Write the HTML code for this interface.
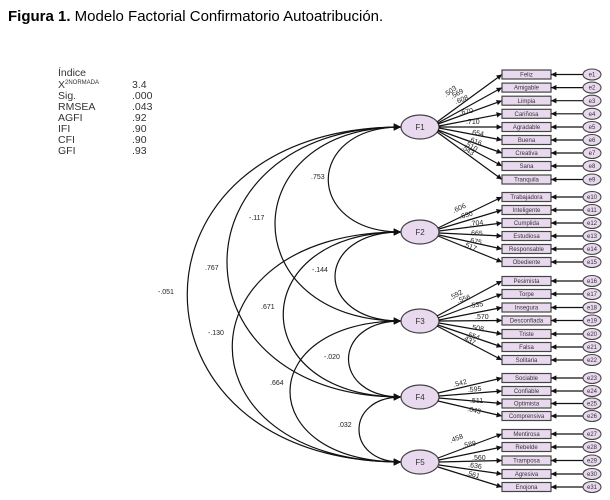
<!DOCTYPE html>
<html><head><meta charset="utf-8"><style>
body{margin:0;background:#fff;width:610px;height:500px;overflow:hidden}
svg{display:block}
.b{fill:#e9d9ee;stroke:#444;stroke-width:1.2}
.bt{font:6px "Liberation Sans",sans-serif;fill:#333;text-anchor:middle}
.l{stroke:#111;stroke-width:1.2;fill:none}
.n{font:7px "Liberation Sans",sans-serif;fill:#222}
.s{font:10.5px "Liberation Sans",sans-serif;fill:#333}
</style></head><body>
<svg width="610" height="500" viewBox="0 0 610 500" xmlns="http://www.w3.org/2000/svg">
<defs>
<marker id="a" viewBox="0 0 10 10" refX="10" refY="5" markerWidth="5" markerHeight="4.5" orient="auto-start-reverse"><path d="M0,0L10,5L0,10z" fill="#111"/></marker>
<marker id="c" viewBox="0 0 10 10" refX="10" refY="5" markerWidth="8" markerHeight="6" orient="auto-start-reverse"><path d="M0,0L10,5L0,10z" fill="#111"/></marker>
</defs>
<text x="8" y="21" font-family="Liberation Sans, sans-serif" font-size="15" fill="#000"><tspan font-weight="bold">Figura 1.</tspan> Modelo Factorial Confirmatorio Autoatribución.</text>

<g class="s">
<text x="58" y="76">Índice</text>
<text x="58" y="88">X<tspan font-size="6" dy="-4">2NORMADA</tspan></text>
<text x="58" y="99">Sig.</text>
<text x="58" y="110">RMSEA</text>
<text x="58" y="121">AGFI</text>
<text x="58" y="132">IFI</text>
<text x="58" y="143">CFI</text>
<text x="58" y="154">GFI</text>
<text x="132" y="88">3.4</text>
<text x="132" y="99">.000</text>
<text x="132" y="110">.043</text>
<text x="132" y="121">.92</text>
<text x="132" y="132">.90</text>
<text x="132" y="143">.90</text>
<text x="132" y="154">.93</text>
</g>

<g class="l" stroke-width="1.5" marker-start="url(#c)" marker-end="url(#c)">
<path d="M401,127 C304,127 304,232 401,232"/>
<path d="M401,127 C233,127 233,321 401,321"/>
<path d="M401,127 C169,127 169,397 401,397"/>
<path d="M401,127 C116,127 116,462 401,462"/>
<path d="M401,232 C313,232 313,321 401,321"/>
<path d="M401,232 C244,232 244,397 401,397"/>
<path d="M401,232 C176,232 176,462 401,462"/>
<path d="M401,321 C331,321 331,397 401,397"/>
<path d="M401,321 C253,321 253,462 401,462"/>
<path d="M401,397 C345,397 345,462 401,462"/>
</g>
<g class="n">
<text x="311" y="179">.753</text>
<text x="249" y="220">-.117</text>
<text x="205" y="270">.767</text>
<text x="158" y="294">-.051</text>
<text x="312" y="272">-.144</text>
<text x="261" y="309">.671</text>
<text x="208" y="335">-.130</text>
<text x="324" y="359">-.020</text>
<text x="270" y="385">.664</text>
<text x="338" y="427">.032</text>
</g>

<g fill="#e9d9ee" stroke="#444" stroke-width="1.2">
<ellipse cx="420" cy="127" rx="19" ry="12"/>
<ellipse cx="420" cy="232" rx="19" ry="12"/>
<ellipse cx="420" cy="321" rx="19" ry="12"/>
<ellipse cx="420" cy="397" rx="19" ry="12"/>
<ellipse cx="420" cy="462" rx="19" ry="12"/>
</g>
<g font-family="Liberation Sans, sans-serif" font-size="8" fill="#333" text-anchor="middle">
<text x="420" y="130">F1</text><text x="420" y="235">F2</text><text x="420" y="324">F3</text><text x="420" y="400">F4</text><text x="420" y="465">F5</text>
</g>

<g class="l" marker-end="url(#a)">
<path d="M437,122L502,74.5"/><path d="M438,123L502,87.6"/><path d="M438,124L502,100.7"/><path d="M439,126L502,113.8"/><path d="M439,127L502,127"/><path d="M439,128L502,140"/><path d="M438,130L502,153"/><path d="M438,131L502,166"/><path d="M437,132L502,179.5"/>
<path d="M438,228L502,197"/><path d="M439,229L502,210"/><path d="M439,231L502,223"/><path d="M439,233L502,236"/><path d="M439,235L502,249"/><path d="M438,236L502,262"/>
<path d="M437,316L502,281"/><path d="M438,318L502,294"/><path d="M439,320L502,307.5"/><path d="M439,321L502,320.5"/><path d="M439,323L502,334"/><path d="M438,325L502,347"/><path d="M437,326L502,360"/>
<path d="M438,393L502,378"/><path d="M439,396L502,391"/><path d="M439,398L502,403.5"/><path d="M438,401L502,416"/>
<path d="M438,458L502,434"/><path d="M439,460L502,447"/><path d="M439,462L502,460.5"/><path d="M439,465L502,474"/><path d="M438,467L502,487"/>
</g>
<g class="n" font-size="6.5">
<text x="446" y="97" transform="rotate(-36 446 97)">.503</text>
<text x="452" y="99" transform="rotate(-29 452 99)">.569</text>
<text x="456" y="104" transform="rotate(-20 456 104)">.608</text>
<text x="460" y="115" transform="rotate(-10 460 115)">.670</text>
<text x="466" y="124">.710</text>
<text x="470" y="134" transform="rotate(10 470 134)">.654</text>
<text x="468" y="141" transform="rotate(20 468 141)">.616</text>
<text x="464" y="145" transform="rotate(28 464 145)">.510</text>
<text x="461" y="148" transform="rotate(35 461 148)">.543</text>
<text x="454" y="213" transform="rotate(-25 454 213)">.606</text>
<text x="460" y="219" transform="rotate(-15 460 219)">.630</text>
<text x="470" y="226" transform="rotate(-6 470 226)">.704</text>
<text x="469" y="235" transform="rotate(3 469 235)">.665</text>
<text x="468" y="242" transform="rotate(12 468 242)">.675</text>
<text x="463" y="246" transform="rotate(22 463 246)">.517</text>
<text x="451" y="300" transform="rotate(-28 451 300)">.592</text>
<text x="458" y="303" transform="rotate(-18 458 303)">.556</text>
<text x="470" y="308" transform="rotate(-8 470 308)">.535</text>
<text x="475" y="319">.570</text>
<text x="470" y="329" transform="rotate(10 470 329)">.508</text>
<text x="466" y="336" transform="rotate(18 466 336)">.554</text>
<text x="462" y="339" transform="rotate(27 462 339)">.437</text>
<text x="454" y="387" transform="rotate(-14 454 387)">.542</text>
<text x="468" y="392" transform="rotate(-5 468 392)">.595</text>
<text x="470" y="403">.511</text>
<text x="467" y="411" transform="rotate(12 467 411)">.643</text>
<text x="451" y="443" transform="rotate(-22 451 443)">.458</text>
<text x="463" y="448" transform="rotate(-12 463 448)">.589</text>
<text x="472" y="460">.560</text>
<text x="468" y="467" transform="rotate(8 468 467)">.636</text>
<text x="466" y="475" transform="rotate(15 466 475)">.561</text>
</g>

<g>
<rect class="b" x="502" y="70" width="49" height="9"/><rect class="b" x="502" y="83.1" width="49" height="9"/><rect class="b" x="502" y="96.2" width="49" height="9"/><rect class="b" x="502" y="109.3" width="49" height="9"/><rect class="b" x="502" y="122.5" width="49" height="9"/><rect class="b" x="502" y="135.5" width="49" height="9"/><rect class="b" x="502" y="148.5" width="49" height="9"/><rect class="b" x="502" y="161.5" width="49" height="9"/><rect class="b" x="502" y="175" width="49" height="9"/>
<rect class="b" x="502" y="192.5" width="49" height="9"/><rect class="b" x="502" y="205.5" width="49" height="9"/><rect class="b" x="502" y="218.5" width="49" height="9"/><rect class="b" x="502" y="231.5" width="49" height="9"/><rect class="b" x="502" y="244.5" width="49" height="9"/><rect class="b" x="502" y="257.5" width="49" height="9"/>
<rect class="b" x="502" y="276.5" width="49" height="9"/><rect class="b" x="502" y="289.5" width="49" height="9"/><rect class="b" x="502" y="303" width="49" height="9"/><rect class="b" x="502" y="316" width="49" height="9"/><rect class="b" x="502" y="329.5" width="49" height="9"/><rect class="b" x="502" y="342.5" width="49" height="9"/><rect class="b" x="502" y="355.5" width="49" height="9"/>
<rect class="b" x="502" y="373.5" width="49" height="9"/><rect class="b" x="502" y="386.5" width="49" height="9"/><rect class="b" x="502" y="399" width="49" height="9"/><rect class="b" x="502" y="411.5" width="49" height="9"/>
<rect class="b" x="502" y="429.5" width="49" height="9"/><rect class="b" x="502" y="442.5" width="49" height="9"/><rect class="b" x="502" y="456" width="49" height="9"/><rect class="b" x="502" y="469.5" width="49" height="9"/><rect class="b" x="502" y="482.5" width="49" height="9"/>
</g>
<g class="bt">
<text x="526.5" y="76.6">Feliz</text><text x="526.5" y="89.7">Amigable</text><text x="526.5" y="102.8">Limpia</text><text x="526.5" y="115.9">Cariñosa</text><text x="526.5" y="129.1">Agradable</text><text x="526.5" y="142.1">Buena</text><text x="526.5" y="155.1">Creativa</text><text x="526.5" y="168.1">Sana</text><text x="526.5" y="181.6">Tranquila</text>
<text x="526.5" y="199.1">Trabajadora</text><text x="526.5" y="212.1">Inteligente</text><text x="526.5" y="225.1">Cumplida</text><text x="526.5" y="238.1">Estudiosa</text><text x="526.5" y="251.1">Responsable</text><text x="526.5" y="264.1">Obediente</text>
<text x="526.5" y="283.1">Pesimista</text><text x="526.5" y="296.1">Torpe</text><text x="526.5" y="309.6">Insegura</text><text x="526.5" y="322.6">Desconfiada</text><text x="526.5" y="336.1">Triste</text><text x="526.5" y="349.1">Falsa</text><text x="526.5" y="362.1">Solitaria</text>
<text x="526.5" y="380.1">Sociable</text><text x="526.5" y="393.1">Confiable</text><text x="526.5" y="405.6">Optimista</text><text x="526.5" y="418.1">Comprensiva</text>
<text x="526.5" y="436.1">Mentirosa</text><text x="526.5" y="449.1">Rebelde</text><text x="526.5" y="462.6">Tramposa</text><text x="526.5" y="476.1">Agresiva</text><text x="526.5" y="489.1">Enojona</text>
</g>

<g class="l" marker-end="url(#a)">
<path d="M583,74.5H551"/><path d="M583,87.6H551"/><path d="M583,100.7H551"/><path d="M583,113.8H551"/><path d="M583,127H551"/><path d="M583,140H551"/><path d="M583,153H551"/><path d="M583,166H551"/><path d="M583,179.5H551"/>
<path d="M583,197H551"/><path d="M583,210H551"/><path d="M583,223H551"/><path d="M583,236H551"/><path d="M583,249H551"/><path d="M583,262H551"/>
<path d="M583,281H551"/><path d="M583,294H551"/><path d="M583,307.5H551"/><path d="M583,320.5H551"/><path d="M583,334H551"/><path d="M583,347H551"/><path d="M583,360H551"/>
<path d="M583,378H551"/><path d="M583,391H551"/><path d="M583,403.5H551"/><path d="M583,416H551"/>
<path d="M583,434H551"/><path d="M583,447H551"/><path d="M583,460.5H551"/><path d="M583,474H551"/><path d="M583,487H551"/>
</g>
<g fill="#e9d9ee" stroke="#444" stroke-width="1.1">
<ellipse cx="592" cy="74.5" rx="9" ry="5.5"/><ellipse cx="592" cy="87.6" rx="9" ry="5.5"/><ellipse cx="592" cy="100.7" rx="9" ry="5.5"/><ellipse cx="592" cy="113.8" rx="9" ry="5.5"/><ellipse cx="592" cy="127" rx="9" ry="5.5"/><ellipse cx="592" cy="140" rx="9" ry="5.5"/><ellipse cx="592" cy="153" rx="9" ry="5.5"/><ellipse cx="592" cy="166" rx="9" ry="5.5"/><ellipse cx="592" cy="179.5" rx="9" ry="5.5"/>
<ellipse cx="592" cy="197" rx="9" ry="5.5"/><ellipse cx="592" cy="210" rx="9" ry="5.5"/><ellipse cx="592" cy="223" rx="9" ry="5.5"/><ellipse cx="592" cy="236" rx="9" ry="5.5"/><ellipse cx="592" cy="249" rx="9" ry="5.5"/><ellipse cx="592" cy="262" rx="9" ry="5.5"/>
<ellipse cx="592" cy="281" rx="9" ry="5.5"/><ellipse cx="592" cy="294" rx="9" ry="5.5"/><ellipse cx="592" cy="307.5" rx="9" ry="5.5"/><ellipse cx="592" cy="320.5" rx="9" ry="5.5"/><ellipse cx="592" cy="334" rx="9" ry="5.5"/><ellipse cx="592" cy="347" rx="9" ry="5.5"/><ellipse cx="592" cy="360" rx="9" ry="5.5"/>
<ellipse cx="592" cy="378" rx="9" ry="5.5"/><ellipse cx="592" cy="391" rx="9" ry="5.5"/><ellipse cx="592" cy="403.5" rx="9" ry="5.5"/><ellipse cx="592" cy="416" rx="9" ry="5.5"/>
<ellipse cx="592" cy="434" rx="9" ry="5.5"/><ellipse cx="592" cy="447" rx="9" ry="5.5"/><ellipse cx="592" cy="460.5" rx="9" ry="5.5"/><ellipse cx="592" cy="474" rx="9" ry="5.5"/><ellipse cx="592" cy="487" rx="9" ry="5.5"/>
</g>
<g class="bt" font-size="6">
<text x="592" y="76.6">e1</text><text x="592" y="89.7">e2</text><text x="592" y="102.8">e3</text><text x="592" y="115.9">e4</text><text x="592" y="129.1">e5</text><text x="592" y="142.1">e6</text><text x="592" y="155.1">e7</text><text x="592" y="168.1">e8</text><text x="592" y="181.6">e9</text>
<text x="592" y="199.1">e10</text><text x="592" y="212.1">e11</text><text x="592" y="225.1">e12</text><text x="592" y="238.1">e13</text><text x="592" y="251.1">e14</text><text x="592" y="264.1">e15</text>
<text x="592" y="283.1">e16</text><text x="592" y="296.1">e17</text><text x="592" y="309.6">e18</text><text x="592" y="322.6">e19</text><text x="592" y="336.1">e20</text><text x="592" y="349.1">e21</text><text x="592" y="362.1">e22</text>
<text x="592" y="380.1">e23</text><text x="592" y="393.1">e24</text><text x="592" y="405.6">e25</text><text x="592" y="418.1">e26</text>
<text x="592" y="436.1">e27</text><text x="592" y="449.1">e28</text><text x="592" y="462.6">e29</text><text x="592" y="476.1">e30</text><text x="592" y="489.1">e31</text>
</g>
</svg>
</body></html>
